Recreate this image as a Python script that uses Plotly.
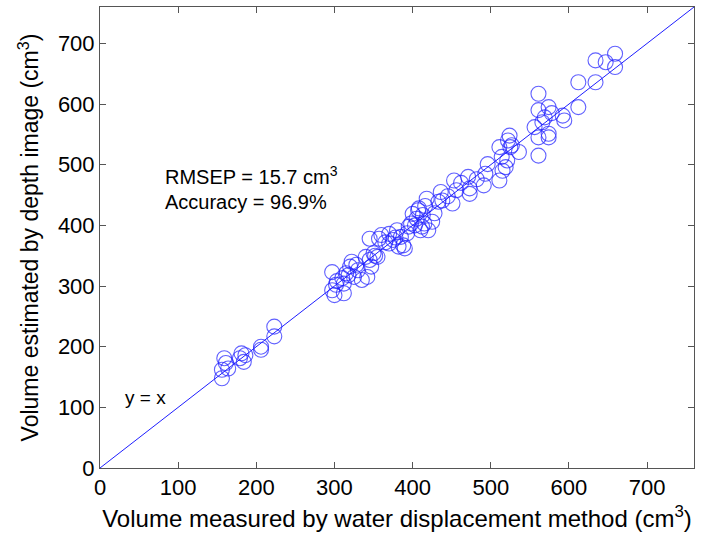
import plotly.graph_objects as go

# Water displacement volume (cm^3) vs. depth-image estimate (cm^3)
measured = [156, 156, 159, 161, 164, 179, 184, 186, 181, 206, 206, 223, 223,
            297, 297, 300, 302, 310, 312, 312, 315, 320, 322, 325, 330, 335, 342,
            345, 340, 345, 350, 347, 355, 357, 360, 370, 370, 375, 380, 382, 385,
            388, 390, 393, 398, 400, 405, 408, 410, 413, 415, 418, 420, 425, 433,
            436, 438, 451, 453, 456, 471, 473, 473, 491, 493, 496, 511, 511, 514,
            519, 521, 522, 524, 525, 536, 556, 561, 561, 561, 561, 569, 574, 574,
            574, 592, 594, 612, 612, 634, 634, 647, 659, 659,
            303, 318, 328, 352, 365, 378, 395, 403, 407, 412, 416, 428, 445, 462,
            482, 515, 527, 566, 578]
estimated = [148, 162, 181, 173, 164, 181, 175, 186, 189, 195, 200, 217, 233,
             323, 293, 285, 302, 313, 288, 304, 321, 332, 340, 315, 326, 310, 315,
             378, 348, 343, 354, 332, 348, 378, 384, 370, 386, 376, 392, 365, 381,
             367, 362, 387, 403, 419, 411, 428, 392, 417, 403, 444, 392, 406, 439,
             455, 441, 436, 474, 458, 480, 461, 452, 466, 485, 501, 474, 529, 513,
             496, 507, 540, 548, 529, 521, 562, 617, 590, 515, 545, 578, 595, 551,
             545, 581, 573, 595, 636, 636, 672, 669, 683, 661,
             308, 318, 335, 350, 372, 380, 398, 400, 425, 398, 432, 420, 448, 470,
             476, 490, 532, 570, 585]

line_ends = [0, 760]

BLUE = "rgb(30,30,255)"
font_family = "Liberation Sans, Arial, sans-serif"

fig = go.Figure()
fig.add_trace(go.Scatter(
    x=line_ends, y=line_ends, mode="lines",
    line=dict(color=BLUE, width=1), showlegend=False, hoverinfo="skip"))
fig.add_trace(go.Scatter(
    x=measured, y=estimated, mode="markers",
    marker=dict(symbol="circle-open", size=15, color="rgba(30,30,255,0.7)",
                line=dict(width=1.1)),
    showlegend=False))

fig.add_annotation(x=80, y=482, xref="x", yref="y", xanchor="left", yanchor="middle",
                   text="RMSEP = 15.7 cm<sup>3</sup>", showarrow=False,
                   font=dict(family=font_family, size=20, color="black"))
fig.add_annotation(x=80, y=438, xref="x", yref="y", xanchor="left", yanchor="middle",
                   text="Accuracy = 96.9%", showarrow=False,
                   font=dict(family=font_family, size=20, color="black"))
fig.add_annotation(x=29, y=116, xref="x", yref="y", xanchor="left", yanchor="middle",
                   text="y = x", showarrow=False,
                   font=dict(family=font_family, size=19, color="black"))

axis_common = dict(
    range=[0, 760], tickvals=[0, 100, 200, 300, 400, 500, 600, 700],
    ticks="inside", ticklen=6, tickcolor="#555", showline=True, linecolor="#555",
    linewidth=1, mirror="allticks", showgrid=False, zeroline=False,
    tickfont=dict(family=font_family, size=22, color="black"),
)
fig.update_xaxes(**axis_common,
                 title=dict(text="Volume measured by water displacement method (cm<sup>3</sup>)",
                            font=dict(family=font_family, size=24, color="black"),
                            standoff=10))
fig.update_yaxes(**axis_common,
                 title=dict(text="Volume estimated by depth image (cm<sup>3</sup>)",
                            font=dict(family=font_family, size=23, color="black"),
                            standoff=12))

fig.update_layout(
    width=712, height=544,
    margin=dict(l=100, r=18, t=7, b=76),
    paper_bgcolor="white", plot_bgcolor="white",
)

fig.write_html("out.html")
